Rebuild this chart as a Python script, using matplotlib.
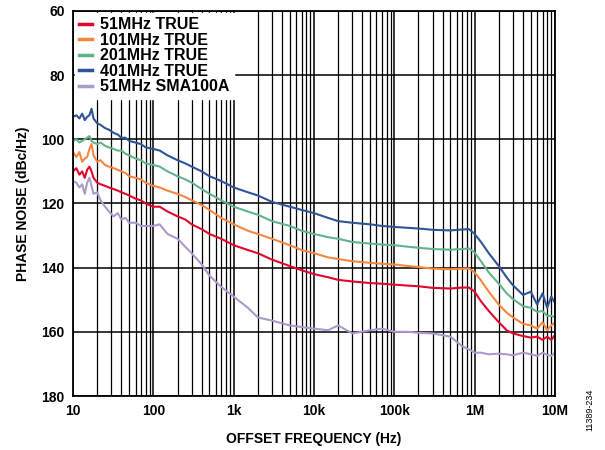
import matplotlib.pyplot as plt
from matplotlib.ticker import FixedLocator, LogLocator, NullFormatter

plt.rcParams['font.family'] = ['Liberation Sans', 'DejaVu Sans']

# offset frequencies (Hz)
freq = [10, 11, 12, 13, 14, 15, 16, 17, 18, 20, 22, 25, 28, 32, 36, 40, 45, 50,
        60, 70, 80, 100, 120, 150, 200, 250, 300, 400, 500, 700,
        1e3, 1.5e3, 2e3, 3e3, 5e3, 7e3, 1e4, 1.5e4, 2e4, 3e4, 5e4, 7e4,
        1e5, 1.5e5, 2e5, 3e5, 5e5, 7e5, 8.5e5, 1e6, 1.2e6, 1.5e6, 2e6, 2.5e6,
        3e6, 4e6, 5e6, 6e6, 7e6, 8e6, 9e6, 1e7]

# phase noise, shown as positive dBc/Hz (axis runs downward)
pn_51 = [110, 109, 111, 110, 112, 109.5, 108.5, 110, 112, 113.5, 114, 114.5, 115, 115.5,
         116, 116.5, 117, 117.5, 118.5, 119, 120, 121, 121, 122.5, 124, 125, 126.5, 128,
         129.5, 131, 133, 134.5, 135.5, 137.5, 139.5, 140.8, 142, 143, 143.8, 144.3, 144.8,
         145, 145.3, 145.6, 145.8, 146.3, 146.5, 146.2, 146.2, 147.5, 150.5, 153.5, 157,
         159.5, 160.5, 161.3, 161.8, 161.5, 162.5, 161.5, 162.5, 161]
pn_101 = [104, 105.5, 104, 107, 106, 105.5, 103, 101.5, 105, 107, 106.5, 108, 108.5, 109,
          109.5, 110, 110.5, 111.5, 112, 112.5, 113.5, 114.5, 115, 116, 117, 118, 119, 120.5,
          122, 124.5, 126.5, 128.5, 129.5, 131, 133, 134.5, 135.5, 136.8, 137.3, 138, 138.5,
          138.8, 139, 139.5, 139.8, 140.3, 140.5, 140.3, 140.2, 141.5, 144, 147.5, 151.5,
          154, 155.5, 157.5, 158, 159, 157, 159.5, 158, 157]
pn_201 = [100.5, 100, 101, 100.5, 100, 99.5, 99, 100.5, 101, 101.5, 101, 102, 102.5, 103,
          103.5, 103.5, 104.5, 105, 106, 106.5, 107.5, 108, 108.5, 110, 111.5, 112.5, 113.5,
          115.5, 117, 119, 121, 122.5, 123.5, 125.5, 127, 128.5, 129.5, 130.5, 131, 132,
          132.5, 132.8, 133, 133.5, 133.8, 134.2, 134.4, 134.2, 134, 135.3, 138, 141.5, 145,
          148, 149.8, 152, 152.5, 153.8, 153.5, 155, 155, 155.5]
pn_401 = [93, 92.5, 93.5, 92, 94, 93, 92.5, 90.5, 93.5, 95, 95.5, 96.5, 97, 98, 98.5, 99.5,
          99.5, 100.5, 101, 101.5, 102.5, 103, 103.5, 105, 106.5, 107.5, 108.5, 110, 111.5,
          113, 115, 116.5, 117.5, 119.5, 121, 122, 123, 124.5, 125.5, 126, 126.5, 127, 127.3,
          127.6, 127.8, 128.2, 128.4, 128.1, 128, 129.5, 132, 135.5, 139.5, 143, 145.5,
          148.5, 147.5, 151.5, 148, 152.5, 149, 151]
pn_sma = [113, 113.5, 115, 114, 117, 113.5, 112, 114.5, 117, 116.5, 119, 121, 122.5, 124,
          123, 125, 124.5, 126, 126, 127, 127, 127, 126.5, 129.5, 131, 133.5, 135.5, 139,
          142.5, 146, 149, 152.5, 155.5, 156.5, 158, 158.5, 159, 159.5, 158, 160.5, 159.5,
          159, 160, 160, 160.3, 160.5, 161.5, 164.5, 165.5, 166.5, 166.5, 167, 166.8, 167,
          167.3, 166.5, 167, 167.5, 166.5, 167.2, 167.5, 166.5]

labels = ['51MHz TRUE', '101MHz TRUE', '201MHz TRUE', '401MHz TRUE', '51MHz SMA100A']
colors = ['#E2062C', '#F7873E', '#62B48A', '#2E5597', '#A99BCB']
xticks = [10, 100, 1e3, 1e4, 1e5, 1e6, 1e7]
xticklabels = ['10', '100', '1k', '10k', '100k', '1M', '10M']
yticks = [60, 80, 100, 120, 140, 160, 180]

fig = plt.figure(figsize=(6.05, 4.5), dpi=100)
ax = fig.add_axes([0.1207, 0.12, 0.7966, 0.8556])

for y, lab, c in zip([pn_51, pn_101, pn_201, pn_401, pn_sma], labels, colors):
    ax.plot(freq, y, color=c, lw=1.5, label=lab)

ax.set_xscale('log')
ax.set_xlim(10, 1e7)
ax.set_ylim(180, 60)
ax.xaxis.set_major_locator(FixedLocator(xticks))
ax.set_xticklabels(xticklabels)
ax.xaxis.set_minor_locator(LogLocator(base=10, subs=range(2, 10), numticks=20))
ax.xaxis.set_minor_formatter(NullFormatter())
ax.set_yticks(yticks)
ax.grid(True, which='major', color='black', lw=1.1)
ax.grid(True, which='minor', axis='x', color='black', lw=0.9)
ax.tick_params(which='both', length=0, labelsize=10, pad=6)
for t in ax.get_xticklabels() + ax.get_yticklabels():
    t.set_fontweight('bold')
for s in ax.spines.values():
    s.set_linewidth(1.3)

ax.set_xlabel('OFFSET FREQUENCY (Hz)', fontsize=10, fontweight='bold', labelpad=10)
ax.set_ylabel('PHASE NOISE (dBc/Hz)', fontsize=10, fontweight='bold', labelpad=8)

leg = ax.legend(loc='upper left', frameon=True, fancybox=False, framealpha=1,
                edgecolor='white', borderaxespad=0.1, handlelength=0.8,
                handletextpad=0.5, labelspacing=0.03, borderpad=0.3,
                prop={'weight': 'bold', 'size': 11.5})
for line in leg.get_lines():
    line.set_linewidth(2.5)

fig.text(0.975, 0.09, '11389-234', rotation=90, fontsize=6.5, ha='center', va='center')

fig.savefig('out.png', dpi=100, facecolor='white')
